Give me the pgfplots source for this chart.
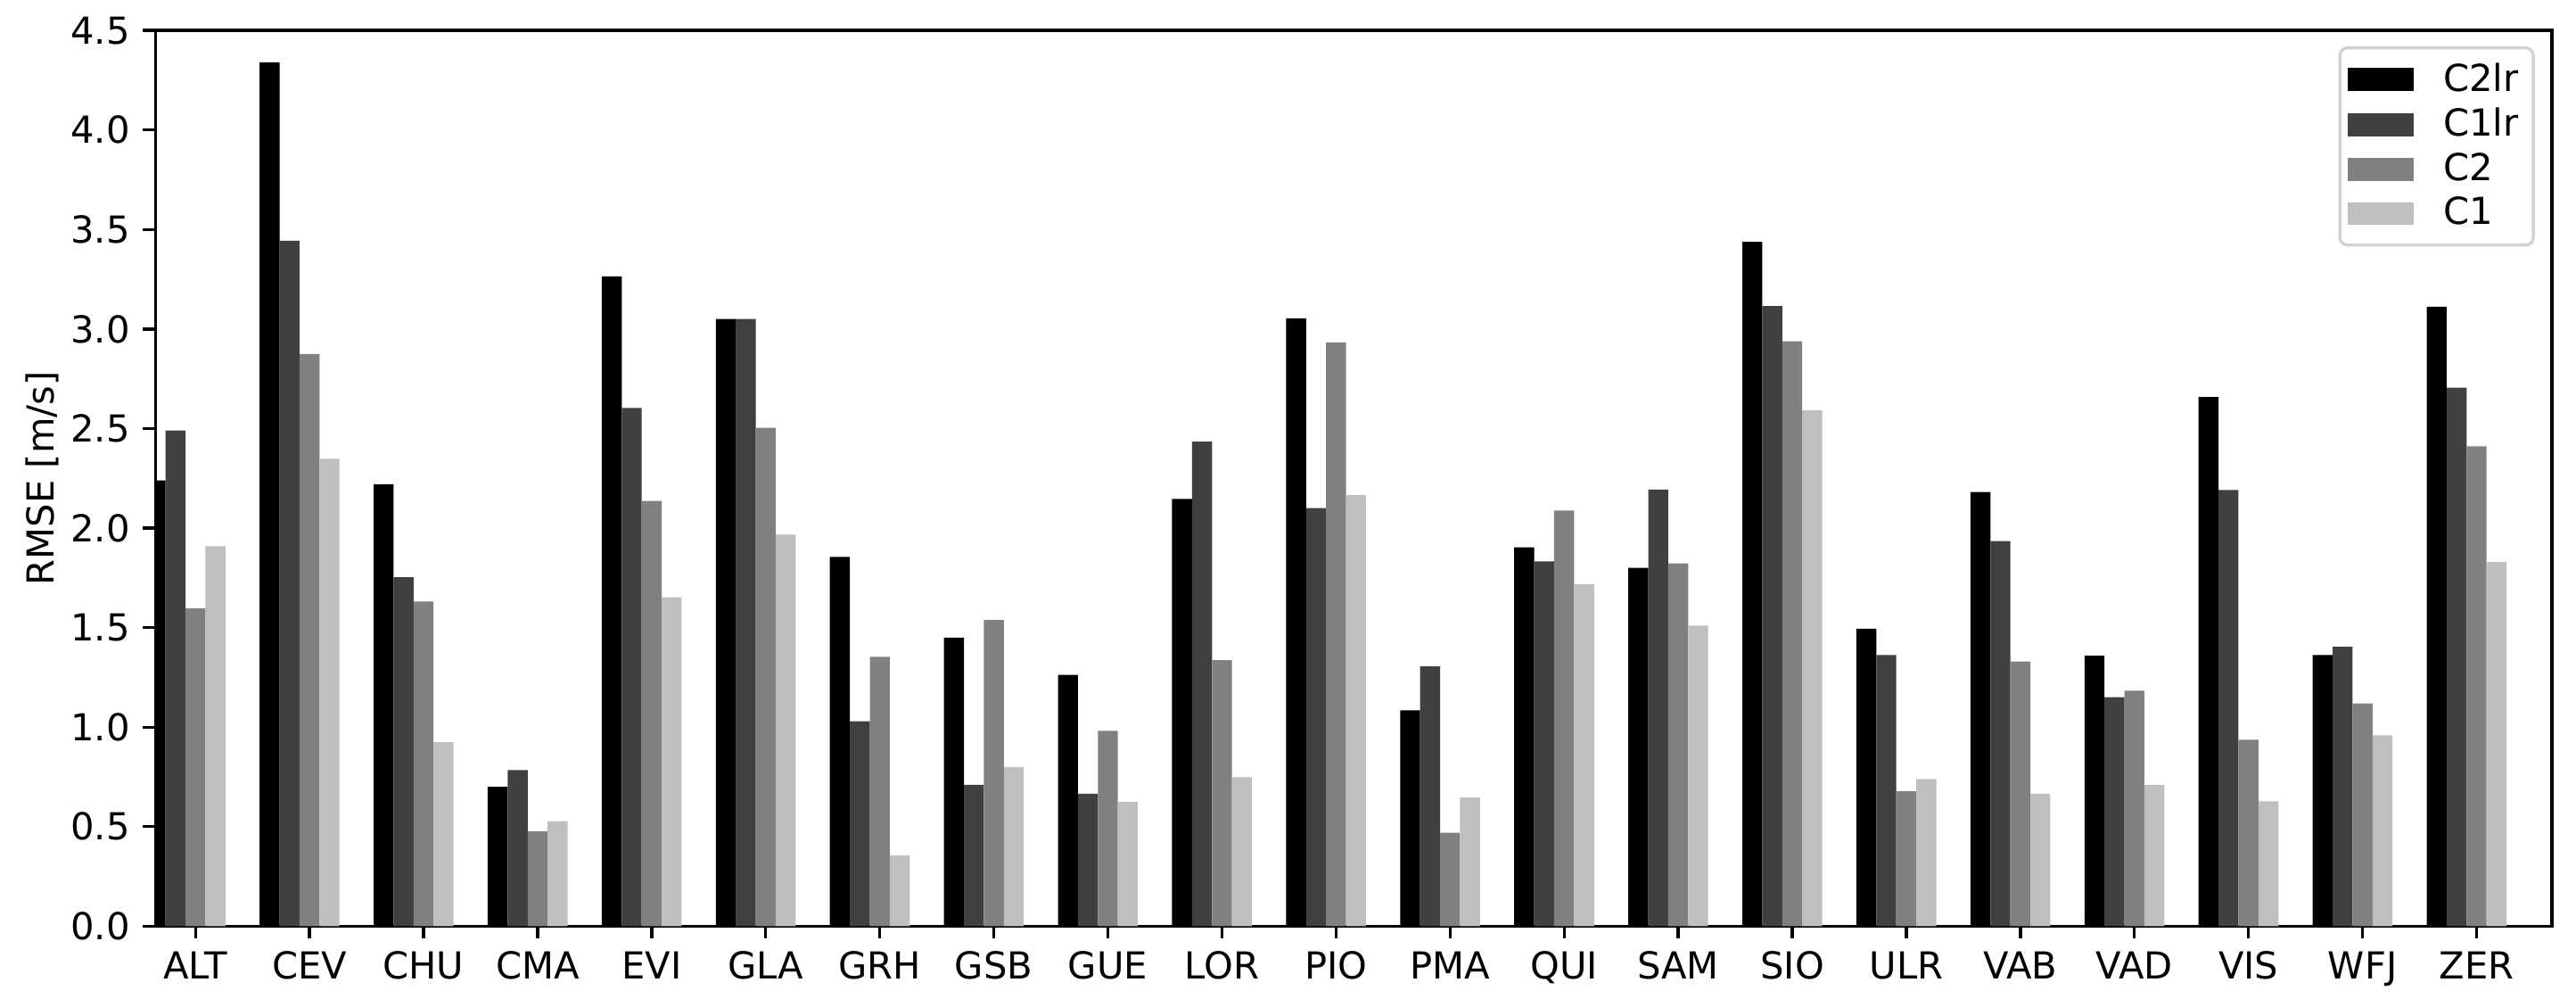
\documentclass[border=0pt]{standalone}
\usepackage{fontspec}
\setmainfont{DejaVu Sans}
\usepackage{pgfplots}
\pgfplotsset{compat=1.18}

\definecolor{g0}{gray}{0}
\definecolor{g1}{gray}{0.25}
\definecolor{g2}{gray}{0.5}
\definecolor{g3}{gray}{0.75}

\begin{document}
\begin{tikzpicture}
\begin{axis}[
    scale only axis,
    width=645pt,
    height=241pt,
    xmin=-0.352, xmax=20.66,
    ymin=0, ymax=4.5,
    ytick={0,0.5,...,4.5},
    xtick={0,...,20},
    xticklabels={ALT,CEV,CHU,CMA,EVI,GLA,GRH,GSB,GUE,LOR,PIO,PMA,QUI,SAM,SIO,ULR,VAB,VAD,VIS,WFJ,ZER},
    yticklabel style={/pgf/number format/.cd, fixed, fixed zerofill, precision=1},
    /pgf/number format/assume math mode=true,
    tick align=outside,
    xtick pos=left, ytick pos=left,
    major tick length=3.3pt,
    tick style={line width=0.8pt, black},
    axis line style={line width=0.8pt},
    ylabel={RMSE [m/s]},
    ylabel style={yshift=-3.6pt},
    ybar,
    bar width=0.175,
    legend style={at={(1,1)}, anchor=north east, xshift=-4.6pt, yshift=-4.3pt,
        draw=black!18, line width=0.8pt, rounded corners=2pt,
        row sep=-1pt, inner xsep=2pt, inner ysep=2pt, font=\normalsize,
        /tikz/every odd column/.append style={column sep=6pt}},
    legend cell align=left,
    legend image code/.code={
        \fill[#1, sharp corners] (0pt,-3.1pt) rectangle (17.8pt,3.1pt);},
]
% C2lr
\addplot[fill=g0, draw=none, bar shift=-0.35] coordinates {
(0,2.24) (1,4.34) (2,2.22) (3,0.70) (4,3.265) (5,3.05) (6,1.855) (7,1.45) (8,1.263) (9,2.146) (10,3.054)
(11,1.084) (12,1.903) (13,1.80) (14,3.438) (15,1.494) (16,2.181) (17,1.359) (18,2.658) (19,1.362) (20,3.112)};
% C1lr
\addplot[fill=g1, draw=none, bar shift=-0.175] coordinates {
(0,2.49) (1,3.444) (2,1.753) (3,0.784) (4,2.603) (5,3.05) (6,1.03) (7,0.71) (8,0.665) (9,2.434) (10,2.101)
(11,1.305) (12,1.833) (13,2.194) (14,3.115) (15,1.362) (16,1.935) (17,1.151) (18,2.191) (19,1.404) (20,2.706)};
% C2
\addplot[fill=g2, draw=none, bar shift=0] coordinates {
(0,1.596) (1,2.875) (2,1.631) (3,0.477) (4,2.136) (5,2.504) (6,1.353) (7,1.538) (8,0.982) (9,1.337) (10,2.933)
(11,0.47) (12,2.088) (13,1.823) (14,2.939) (15,0.678) (16,1.33) (17,1.183) (18,0.937) (19,1.119) (20,2.411)};
% C1
\addplot[fill=g3, draw=none, bar shift=0.175] coordinates {
(0,1.909) (1,2.348) (2,0.924) (3,0.528) (4,1.653) (5,1.967) (6,0.355) (7,0.80) (8,0.624) (9,0.748) (10,2.165)
(11,0.646) (12,1.717) (13,1.51) (14,2.591) (15,0.739) (16,0.665) (17,0.71) (18,0.627) (19,0.959) (20,1.829)};
\legend{C2lr, C1lr, C2, C1}
\end{axis}
% page margins as in the reference
\path ([xshift=-41.8pt,yshift=-19.4pt]current axis.south west)
  rectangle ([xshift=6.5pt,yshift=8.2pt]current axis.north east);
\end{tikzpicture}
\end{document}
